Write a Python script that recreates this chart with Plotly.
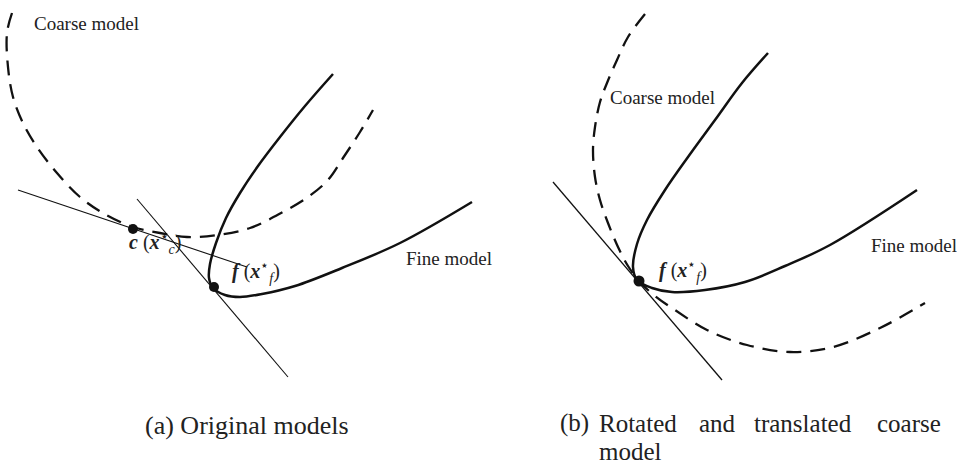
import plotly.graph_objects as go

# ---- panel (a): original models (pixel-like coordinates, y grows downward) ----
coarse_a_x = [12, 7, 8, 13, 23, 37, 57, 80, 103, 133, 160, 187, 217, 250, 283, 308, 328, 343, 360, 373]
coarse_a_y = [13, 33, 67, 97, 123, 147, 173, 197, 213, 227, 233, 237, 235, 228, 212, 197, 180, 158, 132, 110]

fine_a_x = [333, 305, 280, 258, 240, 226, 216, 210, 209, 213, 225, 240, 262, 295, 342, 400, 472]
fine_a_y = [74, 106, 137, 166, 193, 218, 243, 264, 278, 288, 295, 297, 294, 286, 268, 243, 202]

tangent_c_x = [18, 247]
tangent_c_y = [190, 267]
tangent_f_a_x = [137, 288]
tangent_f_a_y = [199, 377]

point_c = (133, 229)
point_f_a = (214, 287)

# ---- panel (b): rotated and translated coarse model ----
coarse_b_x = [645, 628, 617, 607, 600, 595, 593, 595, 600, 608, 618, 628, 640, 655, 675, 707, 747, 790, 833, 880, 925]
coarse_b_y = [14, 37, 60, 83, 102, 127, 150, 177, 200, 223, 247, 266, 282, 296, 310, 330, 345, 352, 347, 328, 303]

fine_b_x = [768, 742, 715, 688, 665, 647, 637, 633, 637, 652, 672, 705, 745, 785, 830, 917]
fine_b_y = [53, 83, 120, 157, 190, 220, 244, 267, 280, 288, 292, 290, 282, 266, 245, 190]

tangent_f_b_x = [553, 722]
tangent_f_b_y = [182, 380]

point_f_b = (639, 281)

SERIF = "'Times New Roman', 'Liberation Serif', 'DejaVu Serif', serif"
INK = "#111111"

fig = go.Figure()


def curve(xs, ys, width, dash="solid"):
    fig.add_trace(go.Scatter(
        x=xs, y=ys, mode="lines",
        line=dict(color=INK, width=width, dash=dash, shape="spline", smoothing=1.0),
        hoverinfo="skip", showlegend=False,
    ))


def dot(p, size):
    fig.add_trace(go.Scatter(
        x=[p[0]], y=[p[1]], mode="markers",
        marker=dict(color=INK, size=size),
        hoverinfo="skip", showlegend=False,
    ))


# panel (a)
curve(coarse_a_x, coarse_a_y, 2.3, dash="15px,9px")
curve(fine_a_x, fine_a_y, 2.5)
curve(tangent_c_x, tangent_c_y, 1.1)
curve(tangent_f_a_x, tangent_f_a_y, 1.1)
dot(point_c, 10)
dot(point_f_a, 10)

# panel (b)
curve(coarse_b_x, coarse_b_y, 2.3, dash="15px,9px")
curve(fine_b_x, fine_b_y, 2.5)
curve(tangent_f_b_x, tangent_f_b_y, 1.3)
dot(point_f_b, 11)


def label(x, y, text, size=19, anchor="left"):
    fig.add_annotation(
        x=x, y=y, xref="x", yref="y", text=text, showarrow=False,
        xanchor=anchor, yanchor="middle",
        font=dict(family=SERIF, size=size, color="#222222"),
    )


c_lbl = "<b><i>c</i></b> (<b><i>x</i></b><sup>⋆</sup><sub><i>c</i></sub>)"
f_lbl = "<b><i>f</i></b> (<b><i>x</i></b><sup>⋆</sup><sub><i>f</i></sub>)"

label(32, 23, "Coarse model")
label(404, 258, "Fine model")
label(127, 243, c_lbl, size=20)
label(230, 272, f_lbl, size=20)

label(608, 97, "Coarse model")
label(869, 245, "Fine model")
label(657, 271, f_lbl, size=20)

# captions
label(143, 425, "(a) Original models", size=26)
caption_words = ["(b)", "Rotated", "and", "translated", "coarse"]
caption_x = [558, 597, 697, 752, 875]
for w, xw in zip(caption_words, caption_x):
    label(xw, 423, w, size=25)
label(597, 451, "model", size=25)

fig.update_layout(
    width=957, height=464,
    margin=dict(l=0, r=0, t=0, b=0),
    paper_bgcolor="white", plot_bgcolor="white",
    xaxis=dict(range=[0, 957], visible=False, fixedrange=True),
    yaxis=dict(range=[464, 0], visible=False, fixedrange=True),
    showlegend=False,
)

fig.write_html("out.html")
